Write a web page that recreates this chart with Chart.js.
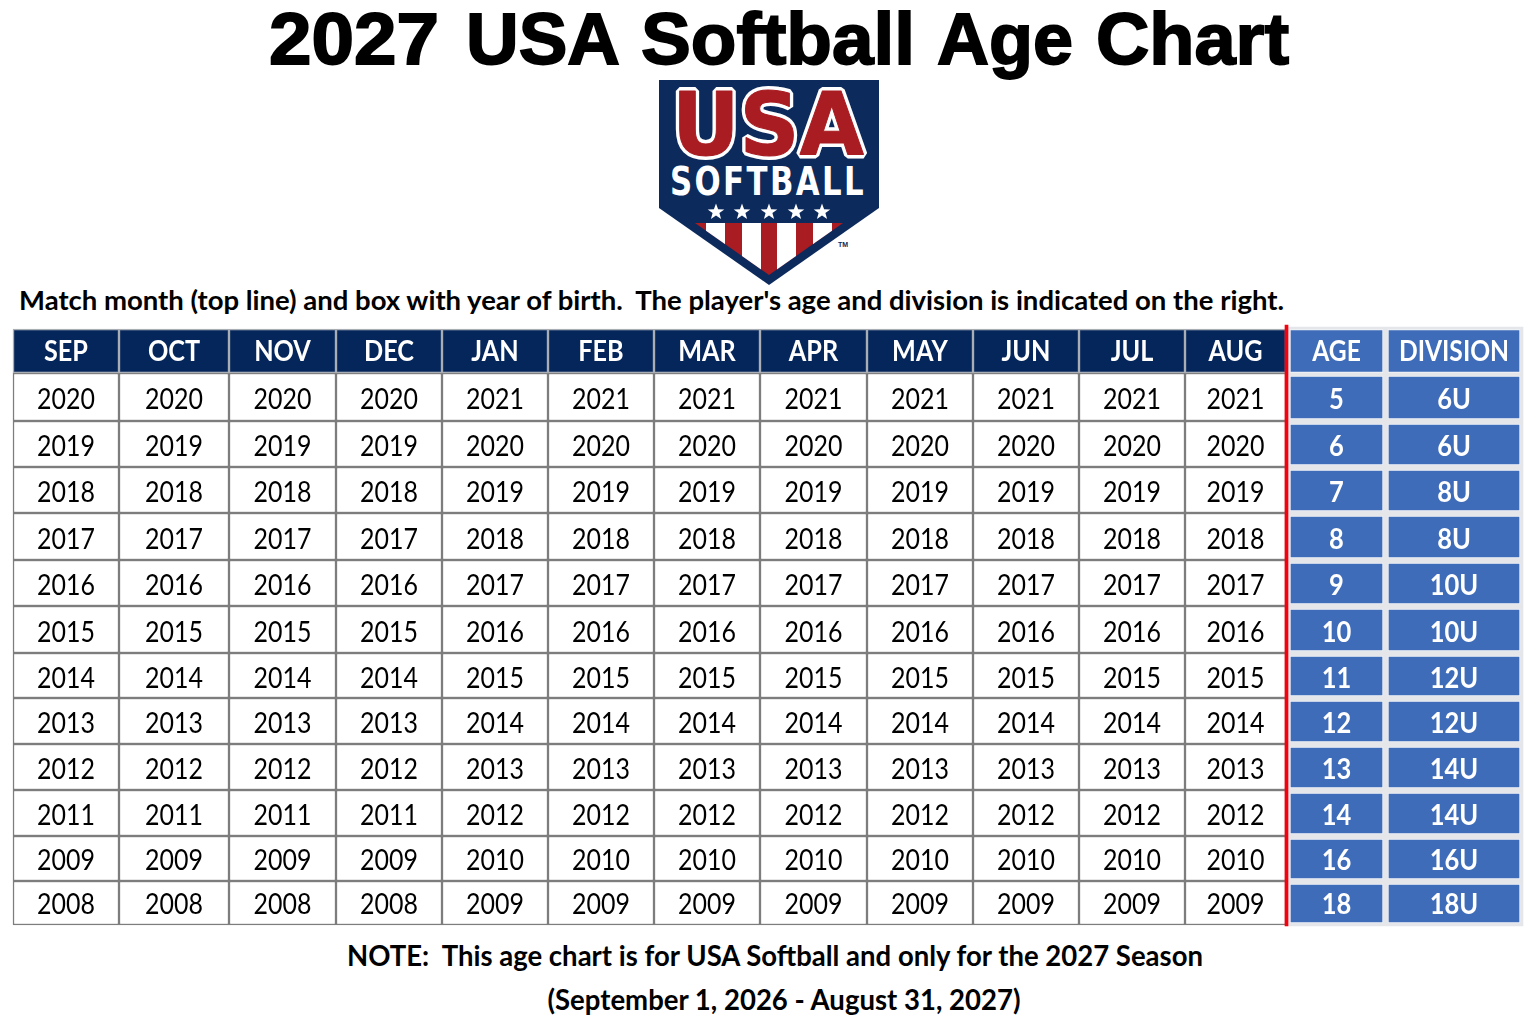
<!DOCTYPE html>
<html>
<head>
<meta charset="utf-8">
<title>2027 USA Softball Age Chart</title>
<script src="https://cdn.jsdelivr.net/npm/chart.js@4"></script>
<style>
    html, body { margin: 0; padding: 0; background: #fff; }
    #page { position: relative; width: 1536px; height: 1024px; overflow: hidden; }
    #page svg, #page canvas { position: absolute; left: 0; top: 0; }
    #mainTitle { font-variant-ligatures: none; font-kerning: none; }
</style>
</head>
<body>
<div id="page">
    <svg width="1536" height="1024" viewBox="0 0 1536 1024">
        <defs>
            <clipPath id="stripeClip"><polygon points="695,223 843,223 769,275"/></clipPath>
            <polygon id="star" points="0,-8.5 2.1,-2.7 8.3,-2.6 3.4,1.1 5.1,7 0,3.5 -5.1,7 -3.4,1.1 -8.3,-2.6 -2.1,-2.7"/>
        </defs>
        <text id="mainTitle" y="64" font-family="Liberation Sans" font-weight="700" font-size="73" fill="#000" stroke="#000" stroke-width="1.8"><tspan x="269" textLength="170" lengthAdjust="spacingAndGlyphs">2027</tspan> <tspan x="466" textLength="154" lengthAdjust="spacingAndGlyphs">USA</tspan> <tspan x="641" textLength="274" lengthAdjust="spacingAndGlyphs">Softball</tspan> <tspan x="937" textLength="136" lengthAdjust="spacingAndGlyphs">Age</tspan> <tspan x="1096" textLength="193" lengthAdjust="spacingAndGlyphs">Chart</tspan></text>

        <polygon points="659,80 879,80 879,208 769,285 659,208" fill="#0c2a5c"/>
        <text x="768" y="155" text-anchor="middle" textLength="192" lengthAdjust="spacingAndGlyphs"
              font-family="DejaVu Sans" font-weight="700" font-size="88" fill="#fff" stroke="#fff" stroke-width="8" stroke-linejoin="bevel">USA</text>
        <text x="768" y="155" text-anchor="middle" textLength="192" lengthAdjust="spacingAndGlyphs"
              font-family="DejaVu Sans" font-weight="700" font-size="88" fill="#a81c22" stroke="#a81c22" stroke-width="1" stroke-linejoin="bevel">USA</text>
        <text x="768" y="195" text-anchor="middle" textLength="196" lengthAdjust="spacingAndGlyphs" letter-spacing="3"
              font-family="DejaVu Sans" font-weight="700" font-size="39" fill="#fff">SOFTBALL</text>
        <g fill="#fff">
            <use href="#star" x="716" y="212"/>
            <use href="#star" x="742" y="212"/>
            <use href="#star" x="769" y="212"/>
            <use href="#star" x="796" y="212"/>
            <use href="#star" x="822" y="212"/>
        </g>
        <g clip-path="url(#stripeClip)">
            <rect x="695" y="223" width="148" height="52" fill="#a81c22"/>
            <rect x="706" y="223" width="19" height="52" fill="#fff"/>
            <rect x="742" y="223" width="19" height="52" fill="#fff"/>
            <rect x="777" y="223" width="19" height="52" fill="#fff"/>
            <rect x="813" y="223" width="19" height="52" fill="#fff"/>
        </g>
        <text x="838" y="247" font-family="Liberation Sans" font-weight="700" font-size="7" fill="#0c2a5c">TM</text>

        <text x="19" y="310" textLength="1265" lengthAdjust="spacingAndGlyphs" xml:space="preserve"
              font-family="Lato" font-weight="700" font-size="27" fill="#000">Match month (top line) and box with year of birth.  The player's age and division is indicated on the right.</text>
        <text x="775" y="966" text-anchor="middle" textLength="856" lengthAdjust="spacingAndGlyphs" xml:space="preserve"
              font-family="Lato" font-weight="700" font-size="29" fill="#000">NOTE:  This age chart is for USA Softball and only for the 2027 Season</text>
        <text x="784" y="1010" text-anchor="middle" textLength="473" lengthAdjust="spacingAndGlyphs"
              font-family="Lato" font-weight="700" font-size="29" fill="#000">(September 1, 2026 - August 31, 2027)</text>
    </svg>
    <canvas id="ageChart" width="1536" height="1024"></canvas>
</div>

<script>
    // chart content
    const months = ["SEP", "OCT", "NOV", "DEC", "JAN", "FEB", "MAR", "APR", "MAY", "JUN", "JUL", "AUG"];
    const sepToDecYears = [2020, 2019, 2018, 2017, 2016, 2015, 2014, 2013, 2012, 2011, 2009, 2008];
    const janToAugYears = [2021, 2020, 2019, 2018, 2017, 2016, 2015, 2014, 2013, 2012, 2010, 2009];
    const ages = [5, 6, 7, 8, 9, 10, 11, 12, 13, 14, 16, 18];
    const divisions = ["6U", "6U", "8U", "8U", "10U", "10U", "12U", "12U", "14U", "14U", "16U", "18U"];

    // table geometry, the scales below run in page pixels
    const monthEdges = [13, 119, 229, 336, 442, 548, 654, 760, 867, 973, 1079, 1185, 1286];
    const rowEdges = [373, 421, 467, 513, 560, 606, 653, 698, 744, 790, 836, 881, 925];
    const ageSpan = [1290, 1383];
    const divisionSpan = [1388, 1520];
    const headerSpan = [329, 373];

    const colors = {
        navy: "#05265b",
        blue: "#3f6cb9",
        grid: "#7d7d7d",
        panel: "#e4e6ea",
        red: "#f5000c"
    };

    const monthSpan = i => [monthEdges[i], monthEdges[i + 1]];
    const middle = (a, b) => (a + b) / 2;

    const datasets = [];

    // drawn first: grey panel and red rule
    datasets.push({
        data: [{ x: [1288, 1523], y: 626.5 }],
        barThickness: 599,
        backgroundColor: colors.panel,
        borderWidth: 0,
        order: 3
    });
    datasets.push({
        data: [{ x: [1285, 1288], y: 625.5 }],
        barThickness: 601,
        backgroundColor: colors.red,
        borderWidth: 0,
        order: 0
    });

    datasets.push({
        data: months.map((m, i) => ({ x: monthSpan(i), y: middle(headerSpan[0], headerSpan[1]) })),
        cellText: months,
        textColor: "#fff",
        textFont: "700 28px Lato",
        textScale: 0.9,
        textDrop: 1,
        barThickness: headerSpan[1] - headerSpan[0],
        backgroundColor: colors.navy,
        borderColor: "#a9adb4",
        borderWidth: 1.5,
        order: 2
    });
    datasets.push({
        data: [
            { x: ageSpan, y: middle(330, 372) },
            { x: divisionSpan, y: middle(330, 372) }
        ],
        cellText: ["AGE", "DIVISION"],
        textColor: "#fff",
        textFont: "700 28px Lato",
        textScale: 0.88,
        textDrop: 1,
        barThickness: 43,
        backgroundColor: colors.blue,
        borderColor: "#f4f6fa",
        borderWidth: 1,
        order: 2
    });

    sepToDecYears.forEach((year, r) => {
        const rowMid = middle(rowEdges[r], rowEdges[r + 1]);
        const yearsInRow = months.map((m, i) => (i < 4 ? sepToDecYears[r] : janToAugYears[r]));
        datasets.push({
            data: months.map((m, i) => ({ x: monthSpan(i), y: rowMid })),
            cellText: yearsInRow,
            textColor: "#000",
            textFont: "400 29px Lato",
            textScale: 0.86,
            textDrop: r > 9 ? 2 : 3,
            barThickness: rowEdges[r + 1] - rowEdges[r],
            backgroundColor: "#fff",
            borderColor: colors.grid,
            borderWidth: 1.5,
            order: 2
        });
        datasets.push({
            data: [
                { x: ageSpan, y: rowMid + 0.5 },
                { x: divisionSpan, y: rowMid + 0.5 }
            ],
            cellText: [ages[r], divisions[r]],
            textColor: "#fff",
            textFont: "700 29px Lato",
            textScale: 0.88,
            textDrop: r > 9 ? 1.5 : 2.5,
            barThickness: rowEdges[r + 1] - rowEdges[r] - 5,
            backgroundColor: colors.blue,
            borderColor: "#f4f6fa",
            borderWidth: 1,
            order: 2
        });
    });

    // writes each cell's label in the middle of its bar
    const cellTextPlugin = {
        id: "cellText",
        afterDatasetsDraw(chart) {
            const ctx = chart.ctx;
            ctx.save();
            ctx.textAlign = "center";
            ctx.textBaseline = "middle";
            chart.data.datasets.forEach((ds, d) => {
                if (!ds.cellText) return;
                ctx.font = ds.textFont;
                ctx.fillStyle = ds.textColor;
                chart.getDatasetMeta(d).data.forEach((bar, i) => {
                    const label = String(ds.cellText[i]);
                    const c = bar.getCenterPoint();
                    const w = ctx.measureText(label).width * ds.textScale;
                    ctx.fillText(label, c.x, c.y + (ds.textDrop || 0), w);
                });
            });
            ctx.restore();
        }
    };

    new Chart(document.getElementById("ageChart"), {
        type: "bar",
        data: { datasets: datasets },
        plugins: [cellTextPlugin],
        options: {
            indexAxis: "y",
            responsive: false,
            animation: false,
            layout: { padding: 0 },
            datasets: { bar: { grouped: false, borderSkipped: false } },
            plugins: { legend: { display: false }, tooltip: { enabled: false }, title: { display: false } },
            scales: {
                x: { type: "linear", display: false, min: 0, max: 1536 },
                y: { type: "linear", display: false, min: 0, max: 1024, reverse: true, offset: false }
            }
        }
    });
</script>
</body>
</html>
